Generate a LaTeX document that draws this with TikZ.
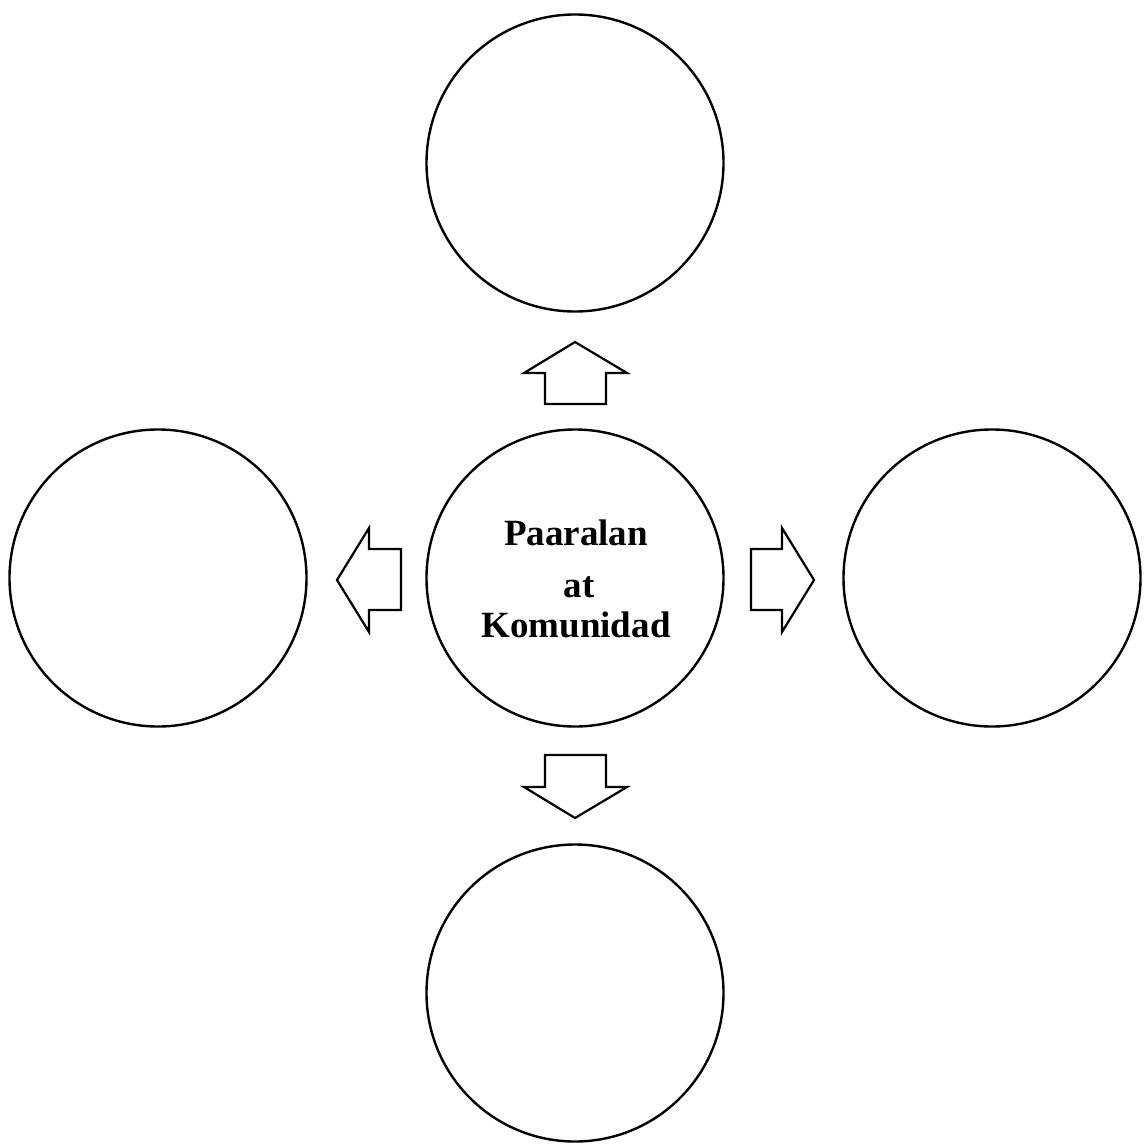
\documentclass[tikz,border=0pt]{standalone}
\usepackage{fontspec}
\setmainfont{Liberation Serif}
\begin{document}
\begin{tikzpicture}[x=1pt,y=-1pt,
  bubble/.style={draw,circle,line width=2.4pt,minimum size=297pt,inner sep=0pt},
  blockarrow/.style={draw,line width=2.2pt,line join=miter},
  lbl/.style={font=\fontsize{37}{40}\selectfont\bfseries,inner sep=0pt,anchor=base}]
\useasboundingbox (0,0) rectangle (1145,1143);
\node[bubble] (top) at (575,163) {};
\node[bubble] (mid) at (575,578) {};
\node[bubble] (left) at (158,578) {};
\node[bubble] (right) at (992,578) {};
\node[bubble] (bot) at (575,993) {};
\node[lbl] (t1) at (576,545) {Paaralan};
\node[lbl] (t2) at (579,597) {at};
\node[lbl] (t3) at (576,637) {Komunidad};
% up arrow
\draw[blockarrow] (545,404) -- (545,373) -- (524,373) -- (575,342) -- (627,373) -- (606,373) -- (606,404) -- cycle;
% down arrow
\draw[blockarrow] (545,755) -- (545,787) -- (524,787) -- (575,818) -- (627,787) -- (606,787) -- (606,755) -- cycle;
% left arrow
\draw[blockarrow] (401,549) -- (369,549) -- (369,528) -- (337,580) -- (369,632) -- (369,610) -- (401,610) -- cycle;
% right arrow
\draw[blockarrow] (751,549) -- (782,549) -- (782,528) -- (814,580) -- (782,632) -- (782,610) -- (751,610) -- cycle;
\end{tikzpicture}
\end{document}
